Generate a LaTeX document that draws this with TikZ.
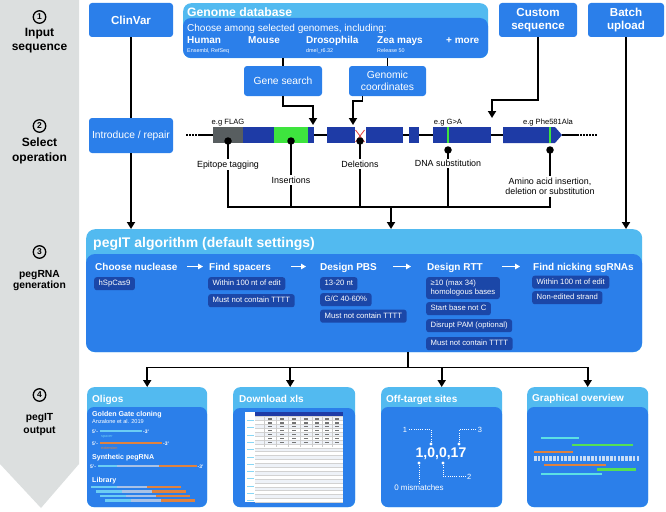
\documentclass[tikz,border=0pt]{standalone}
\usepackage{fontspec}
\setmainfont{Liberation Sans}
\usetikzlibrary{arrows.meta}
\definecolor{bblue}{HTML}{2B7FEA}
\definecolor{lblue}{HTML}{52BAF0}
\definecolor{pill}{HTML}{1B47A8}
\definecolor{gdark}{HTML}{1E3BA6}
\definecolor{gexon}{HTML}{585E60}
\definecolor{ggreen}{HTML}{3EE43E}
\definecolor{band}{HTML}{DCDFDF}
\definecolor{oorange}{HTML}{E0823E}
\definecolor{ocyan}{HTML}{6BCDF4}
\definecolor{ogrey}{HTML}{A9C2E6}
\definecolor{tcyan}{HTML}{5CE0E4}
\definecolor{tgreen}{HTML}{55DF55}
\definecolor{sqc}{HTML}{C6DCF6}
\definecolor{sheetrow}{HTML}{EEF2F8}
\definecolor{delred}{HTML}{E03A3A}
\newcommand\fsz[2]{\fontsize{#1pt}{#2pt}\selectfont}
\begin{document}
\begin{tikzpicture}[x=1pt,y=-1pt,
  conn/.style={line width=1.8pt},
  arr/.style={line width=1.8pt,-{Triangle[width=8pt,length=7pt]}},
  warr/.style={line width=1.4pt,white,-{Triangle[width=5.5pt,length=5pt]}},
  bbox/.style={fill=bblue,rounded corners=3pt,text=white,inner sep=0pt,align=center},
  hdrbox/.style={fill=lblue,inner sep=0pt,anchor=north west},
  txt/.style={inner sep=0pt,text=white,anchor=base west},
  gl/.style={inner sep=1.5pt,anchor=base,font=\fsz{8.9}{10.8}},
  eg/.style={inner sep=0pt,anchor=base,font=\fsz{7.6}{9}},
  pillbase/.style={fill=pill,rounded corners=2.5pt,text=white,font=\fsz{7.7}{9.3},inner xsep=4.5pt,inner ysep=2.7pt,anchor=north west,align=left},
  pillbox/.style={pillbase,text height=5.9pt,text depth=1.7pt},
  gdot/.style={circle,fill=black,inner sep=0pt,minimum size=7.5pt},
  wdots/.style={white,line width=0.8pt,dash pattern=on 0.8pt off 1.4pt},
  bar/.style={line width=2.4pt},
  snum/.style={circle,draw=black,line width=1.3pt,inner sep=0pt,minimum size=12.5pt,font=\fsz{8.5}{9}\bfseries},
  stxt/.style={anchor=base,inner sep=0pt,font=\fsz{12}{14}\bfseries},
  stxtb/.style={anchor=base,inner sep=0pt,font=\fsz{10.3}{12}\bfseries},
  colh/.style={txt,font=\fsz{10}{12}\bfseries},
  outh/.style={txt,font=\fsz{10}{12}\bfseries},
  tiny/.style={txt,font=\fsz{5}{6}\bfseries},
]
\useasboundingbox (0,0) rectangle (666,511);
% ---------- left band ----------
\fill[band] (0,0) -- (79,0) -- (79,464) -- (41,508) -- (0,464) -- cycle;
\node[snum] (s1) at (39.5,17) {1};
\node[stxt] (s1a) at (39.5,36.7) {Input};
\node[stxt] (s1b) at (39.5,50.5) {sequence};
\node[snum] (s2) at (39.5,126) {2};
\node[stxt] (s2a) at (39.5,146) {Select};
\node[stxt] (s2b) at (39.5,161) {operation};
\node[snum] (s3) at (39.5,252) {3};
\node[stxtb] (s3a) at (39.5,277.3) {pegRNA};
\node[stxtb] (s3b) at (39.5,288.5) {generation};
\node[snum] (s4) at (39.5,395) {4};
\node[stxtb] (s4a) at (39.5,420.7) {pegIT};
\node[stxtb] (s4b) at (39.5,433.3) {output};

% ---------- top row ----------
\node[bbox,minimum width=84pt,minimum height=34pt,font=\fsz{11.6}{13.5}\bfseries] (clin) at (131,20) {ClinVar};
\node[bbox,minimum width=78pt,minimum height=34pt,font=\fsz{11.6}{13.5}\bfseries] (cust) at (538,20) {Custom\\sequence};
\node[bbox,minimum width=76pt,minimum height=34pt,font=\fsz{11.6}{13.5}\bfseries] (batch) at (626,20) {Batch\\upload};
\node[bbox,minimum width=84pt,minimum height=35pt,font=\fsz{10.3}{12}] (intro) at (131,135.5) {Introduce / repair};
\node[bbox,minimum width=78pt,minimum height=30pt,font=\fsz{10.3}{12}] (gs) at (283,81) {Gene search};
\node[bbox,minimum width=77pt,minimum height=30pt,font=\fsz{10.3}{12}] (gc) at (387.5,81) {Genomic\\coordinates};

% genome database
\node[hdrbox,rounded corners=8pt,minimum width=305pt,minimum height=55pt] (gdb) at (183,3) {};
\fill[bblue,rounded corners=8pt] (183,18) rectangle (488,58);
\node[txt,font=\fsz{12.2}{14}\bfseries] (gdbt) at (187,16.5) {Genome database};
\node[txt,font=\fsz{10}{12}] (gdbc) at (187,31.5) {Choose among selected genomes, including:};
\node[txt,font=\fsz{10}{12}\bfseries] (hum) at (187,44) {Human};
\node[txt,font=\fsz{10}{12}\bfseries] (mou) at (248,44) {Mouse};
\node[txt,font=\fsz{10}{12}\bfseries] (dro) at (306,44) {Drosophila};
\node[txt,font=\fsz{10}{12}\bfseries] (zea) at (377,44) {Zea mays};
\node[txt,font=\fsz{10}{12}\bfseries] (more) at (446,44) {+ more};
\node[txt,font=\fsz{5.4}{6}] (hums) at (187,52.3) {Ensembl, RefSeq};
\node[txt,font=\fsz{5.4}{6}] (dros) at (306,52.3) {dmel\_r6.32};
\node[txt,font=\fsz{5.4}{6}] (zeas) at (377,52.3) {Release 50};

% top connectors
\coordinate (tgs) at (313,125);
\coordinate (tgc) at (353,125);
\coordinate (tcs) at (492,118);
\draw[conn] (gdb.south -| gs.north) -- (gs.north);
\draw[conn] (gdb.south -| gc.north) -- (gc.north);
\draw[arr] (gs.south) |- (313,106) -- (tgs);
\draw[arr] ([xshift=-25pt]gc.south) |- (353,101) -- (tgc);
\draw[arr] (cust.south) |- (492,100) -- (tcs);
\draw[conn] (clin) -- (intro);

% ---------- gene ----------
\draw[line width=1.5pt,dash pattern=on 1.5pt off 1.5pt] (186,135) -- (200,135);
\draw[line width=1.5pt] (200,135) -- (213,135);
\fill[gexon] (213,127) rectangle (243,143);
\fill[gdark] (243,127) rectangle (274,143);
\fill[ggreen] (274,127) rectangle (308,143);
\fill[gdark] (308,127) rectangle (314,143);
\draw[line width=1.5pt] (314,135) -- (327,135);
\fill[gdark] (327,127) rectangle (355,143);
\draw[delred,line width=0.8pt] (355.5,130) -- (364.5,142) (355.5,142) -- (364.5,130);
\fill[gdark] (366,127) rectangle (403,143);
\draw[line width=1.5pt] (403,135) -- (409,135);
\fill[gdark] (409,127) rectangle (419,143);
\draw[line width=1.5pt] (419,135) -- (433,135);
\fill[gdark] (433,127) rectangle (491,143);
\fill[ggreen] (447.2,127) rectangle (449.4,143);
\draw[line width=1.5pt] (491,135) -- (503,135);
\fill[gdark] (503,127) -- (555,127) -- (562,135) -- (555,143) -- (503,143) -- cycle;
\fill[ggreen] (548.6,127) rectangle (550.8,143);
\draw[line width=1.5pt] (562,135) -- (579,135);
\draw[line width=1.5pt,dash pattern=on 1.5pt off 1.5pt] (580,135) -- (598,135);

\node[eg] (eg1) at (228,124.5) {e.g FLAG};
\node[eg] (eg2) at (448,124.5) {e.g G>A};
\node[eg] (eg3) at (548,124.5) {e.g Phe581Ala};

\node[gdot] (d1) at (228,141) {};
\node[gl] (epi) at (228,167) {Epitope tagging};
\draw[conn] (d1.center) -- (epi);
\node[gdot] (d2) at (291,141) {};
\node[gl] (ins) at (291,183) {Insertions};
\draw[conn] (d2.center) -- (ins);
\node[gdot] (d3) at (360,141) {};
\node[gl] (del) at (360,167) {Deletions};
\draw[conn] (d3.center) -- (del);
\node[gdot] (d4) at (448,150) {};
\node[gl] (dna) at (448,166.7) {DNA substitution};
\draw[conn] (d4.center) -- (dna);
\node[gdot] (d5) at (550,150) {};
\node[gl,anchor=north,align=center] (aa) at (550,176) {Amino acid insertion,\\deletion or substitution};
\draw[conn] (d5.center) -- (aa);

\coordinate (bR) at (550,207);
\coordinate (bM) at (391,207);
\draw[conn,line cap=rect] (epi.south) |- (bR);
\draw[conn] (ins.south) -- (ins.south |- bR);
\draw[conn] (del.south) -- (del.south |- bR);
\draw[conn] (dna.south) -- (dna.south |- bR);
\draw[conn] (aa.south) -- (aa.south |- bR);

% ---------- pegIT box ----------
\node[hdrbox,rounded corners=9pt,minimum width=556pt,minimum height=123pt] (peg) at (86,229) {};
\fill[bblue,rounded corners=9pt] (86,254) rectangle (642,352);
\draw[arr] (bM) -- (bM |- peg.north);
\draw[arr] (intro) -- (intro |- peg.north);
\draw[arr] (batch.south) -- (batch.south |- peg.north);
\node[txt,font=\fsz{14}{16}\bfseries] (pegt) at (93,247.5) {pegIT algorithm (default settings)};
\node[colh] (h1) at (95,270.5) {Choose nuclease};
\node[colh] (h2) at (209,270.5) {Find spacers};
\node[colh] (h3) at (320,270.5) {Design PBS};
\node[colh] (h4) at (427,270.5) {Design RTT};
\node[colh] (h5) at (533,270.5) {Find nicking sgRNAs};
\draw[warr] (187,266.5) -- (203,266.5);
\draw[warr] (291,266.5) -- (306,266.5);
\draw[warr] (393,266.5) -- (411,266.5);
\draw[warr] (502,266.5) -- (520,266.5);
\node[pillbox] (p11) at (94,277) {hSpCas9};
\node[pillbox] (p21) at (208,277) {Within 100 nt of edit};
\node[pillbox] (p22) at (208,294) {Must not contain TTTT};
\node[pillbox] (p31) at (320,277) {13-20 nt};
\node[pillbox] (p32) at (320,293) {G/C 40-60\%};
\node[pillbox] (p33) at (320,309.5) {Must not contain TTTT};
\node[pillbase] (p41) at (426,277) {≥10 (max 34)\\homologous bases};
\node[pillbox] (p42) at (426,302) {Start base not C};
\node[pillbox] (p43) at (426,319) {Disrupt PAM (optional)};
\node[pillbox] (p44) at (426,337) {Must not contain TTTT};
\node[pillbox] (p51) at (532,275.5) {Within 100 nt of edit};
\node[pillbox] (p52) at (532,291) {Non-edited strand};

% ---------- output boxes ----------
\node[hdrbox,rounded corners=7pt,minimum width=120pt,minimum height=120pt] (o1) at (87,387) {};
\fill[bblue,rounded corners=7pt] (87,407) rectangle (207,507);
\node[hdrbox,rounded corners=7pt,minimum width=122pt,minimum height=120pt] (o2) at (233,387) {};
\fill[bblue,rounded corners=7pt] (233,408) rectangle (355,507);
\node[hdrbox,rounded corners=7pt,minimum width=121pt,minimum height=120pt] (o3) at (381,387) {};
\fill[bblue,rounded corners=7pt] (381,407) rectangle (502,507);
\node[hdrbox,rounded corners=7pt,minimum width=121pt,minimum height=120pt] (o4) at (527,387) {};
\fill[bblue,rounded corners=7pt] (527,407) rectangle (648,507);

\path (peg.south) ++(44,0) coordinate (pb);
\draw[conn] (pb) -- ++(0,15) coordinate (hb);
\draw[conn,line cap=rect] (hb -| o1.north) -- (hb -| o4.north);
\draw[arr] (hb -| o1.north) -- (o1.north);
\draw[arr] ([xshift=-4pt]o2.north |- hb) -- ([xshift=-4pt]o2.north);
\draw[arr] (hb -| o3.north) -- (o3.north);
\draw[arr] (hb -| o4.north) -- (o4.north);

% Oligos
\node[outh] (o1t) at (92,402.5) {Oligos};
\node[txt,font=\fsz{7.1}{8}\bfseries] (ggc) at (92,416) {Golden Gate cloning};
\node[txt,font=\fsz{5.6}{6}] (anz) at (92,423.3) {Anzalone et al. 2019};
\node[tiny] (a5) at (92,433) {5'-};
\draw[bar,ocyan] (100,431) -- (142,431);
\node[tiny] (a3) at (143,433) {-3'};
\node[txt,font=\fsz{3.8}{4},text=ocyan] (spc) at (101,437) {spacer};
\node[tiny] (b5) at (92,445) {5'-};
\draw[bar,oorange] (100,443) -- (162,443);
\node[tiny] (b3) at (163,445) {-3'};
\node[txt,font=\fsz{3.8}{4},text=oorange] (ext) at (101,449.5) {extension};
\node[txt,font=\fsz{7.1}{8}\bfseries] (syn) at (92,459.3) {Synthetic pegRNA};
\node[tiny] (c5) at (90,468) {5'-};
\draw[bar,ocyan] (98,466) -- (117,466);
\draw[bar,ogrey] (117,466) -- (159,466);
\draw[bar,oorange] (159,466) -- (197,466);
\node[tiny] (c3) at (197.5,468) {-3'};
\node[txt,font=\fsz{7.1}{8}\bfseries] (lib) at (92,482.3) {Library};
\foreach \i in {0,1,2,3} {
  \draw[bar,ocyan] ({91+4.7*\i},{487+4.5*\i}) -- ({117+4.7*\i},{487+4.5*\i});
  \draw[bar,ogrey] ({117+4.7*\i},{487+4.5*\i}) -- ({147+4.7*\i},{487+4.5*\i});
  \draw[bar,oorange] ({147+4.7*\i},{487+4.5*\i}) -- ({181+4.7*\i},{487+4.5*\i});
}

% Download xls
\node[outh] (o2t) at (239,402.5) {Download xls};
\fill[white] (245,412) rectangle (343,502);
\fill[gdark] (255,412) rectangle (343,416.5);
\foreach \i in {0,2,...,20} \fill[sheetrow] (255,{416.5+3.9*\i}) rectangle (343,{420.4+3.9*\i});
\foreach \i in {0,...,22} \draw[line width=0.25pt,gray!35] (255,{416.5+3.9*\i}) -- (343,{416.5+3.9*\i});
\foreach \c in {264,276,288,300,312,322,332} \draw[line width=0.25pt,gray!40] (\c,416.5) -- (\c,447);
\foreach \r in {0,...,6} {
  \foreach \c in {270,282,294,306,317,327,337} {
    \fill[black!55] ({\c-2.5},{418.3+3.9*\r}) rectangle ({\c+1.5},{419.6+3.9*\r});
  }
}
\foreach \i in {0,...,11} \fill[ocyan!80] (246.5,{420+7.3*\i}) rectangle (253.5,{420.6+7.3*\i});

% Off-target sites
\node[outh] (o3t) at (386,402.5) {Off-target sites};
\node[inner sep=0pt,anchor=base,text=white,font=\fsz{14}{16}\bfseries] (ot) at (441,457) {1,0,0,17};
\node[inner sep=0pt,anchor=base,text=white,font=\fsz{7.5}{9}] (n1) at (405,432) {1};
\draw[wdots] ([xshift=2pt]n1.east |- 0,429.5) -- (431,429.5) -- (431,443);
\fill[white] (431,444) circle (1.6pt);
\node[inner sep=0pt,anchor=base,text=white,font=\fsz{7.5}{9}] (n3) at (480,432) {3};
\draw[wdots] ([xshift=-2pt]n3.west |- 0,429.5) -- (459,429.5) -- (459,443);
\fill[white] (459,444) circle (1.6pt);
\fill[white] (419,463) circle (1.6pt);
\node[inner sep=0pt,anchor=base,text=white,font=\fsz{8}{9}] (n0) at (419,490.7) {0 mismatches};
\draw[wdots] (419,463) -- (n0.north);
\fill[white] (443,463) circle (1.6pt);
\node[inner sep=0pt,anchor=base west,text=white,font=\fsz{7.5}{9}] (n2) at (467,479) {2};
\draw[wdots] (443,463) -- (443,476) -- (n2.west |- 0,476);

% Graphical overview
\node[outh] (o4t) at (532,401.5) {Graphical overview};
\draw[bar,tcyan] (541,438) -- (579,438);
\draw[bar,tgreen] (572,445) -- (633,445);
\draw[bar,oorange] (534,452) -- (573,452);
\draw[line width=5pt,sqc,dash pattern=on 2.6pt off 1.2pt] (534,458.5) -- (639,458.5);
\draw[bar,oorange] (544,465) -- (606,465);
\draw[bar,tgreen] (597,469.5) -- (636,469.5);
\draw[bar,tcyan] (541,474) -- (602,474);
\end{tikzpicture}
\end{document}
